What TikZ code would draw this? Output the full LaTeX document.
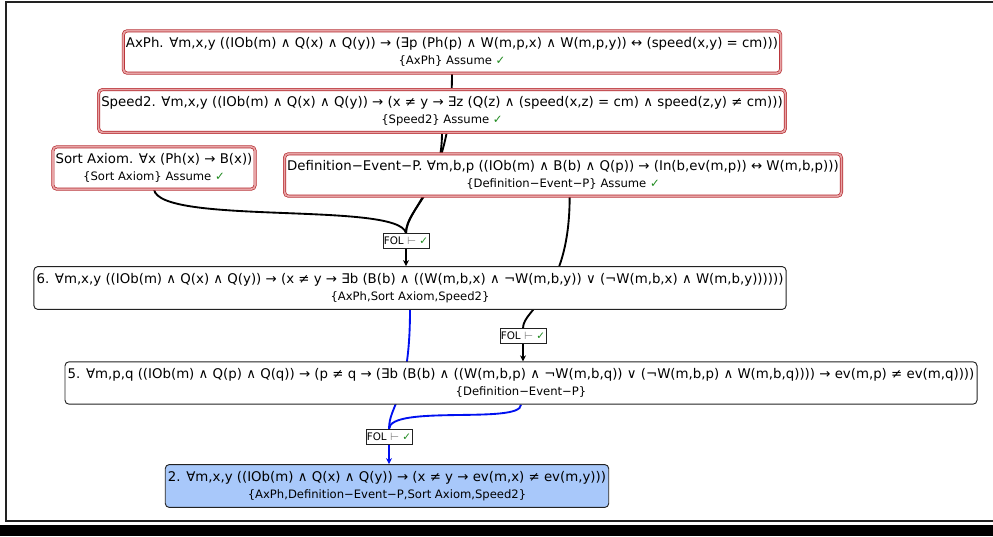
\documentclass[tikz,border=0pt]{standalone}
\usepackage{fontspec}
\setmainfont{DejaVu Sans}
\usetikzlibrary{arrows.meta,backgrounds}
\definecolor{pfRed}{HTML}{B3262B}
\definecolor{pfPink}{HTML}{E7A3A5}
\definecolor{pfBlue}{HTML}{A8C8FA}
\definecolor{pfLine}{HTML}{0010F0}
\definecolor{pfGreen}{HTML}{1E8A1E}
\definecolor{pfInk}{HTML}{222222}
\newcommand{\ok}{\textcolor{pfGreen}{✓}}
\newcommand{\from}[1]{{\fontsize{8.7}{10}\selectfont #1}}
\tikzset{
  formula/.style={align=center,text=black,font=\fontsize{10}{12.75}\selectfont,
    inner xsep=2pt,inner ysep=5pt,rounded corners=3pt,fill=white},
  axiom/.style={formula,draw=pfRed,double=pfPink,double distance=1.3pt,line width=.5pt},
  derived/.style={formula,draw=pfInk,line width=.7pt},
  goal/.style={derived,fill=pfBlue},
  fol/.style={draw=pfInk,fill=white,line width=.6pt,inner xsep=.6pt,inner ysep=2.6pt,
    font=\fontsize{7.8}{9}\selectfont},
  proofline/.style={draw=black,line width=1.4pt},
  goalline/.style={draw=pfLine,line width=1.4pt},
  infer/.style={proofline,-{Stealth[length=4.5pt,width=4.5pt]}},
  goalinfer/.style={goalline,-{Stealth[length=4.5pt,width=4.5pt]}},
}

\begin{document}
\begin{tikzpicture}[x=.75pt,y=-.75pt]
  \useasboundingbox (0,0) rectangle (993,536);
  \draw[pfInk,line width=.8pt] (993,2) -- (6,2) -- (6,521) -- (993,521);
  \fill[black] (0,525) rectangle (993,536);

  \node[axiom] (axph) at (452,52)
    {AxPh. ∀m,x,y ((IOb(m) ∧ Q(x) ∧ Q(y)) → (∃p (Ph(p) ∧ W(m,p,x) ∧ W(m,p,y)) ↔ (speed(x,y) = cm)))\\
     \from{\{AxPh\} Assume \ok}};
  \node[axiom] (speed2) at (442,111)
    {Speed2. ∀m,x,y ((IOb(m) ∧ Q(x) ∧ Q(y)) → (x ≠ y → ∃z (Q(z) ∧ (speed(x,z) = cm) ∧ speed(z,y) ≠ cm)))\\
     \from{\{Speed2\} Assume \ok}};
  \node[axiom] (sortax) at (154,168)
    {Sort Axiom. ∀x (Ph(x) → B(x))\\
     \from{\{Sort Axiom\} Assume \ok}};
  \node[axiom] (defev) at (563,175)
    {Definition−Event−P. ∀m,b,p ((IOb(m) ∧ B(b) ∧ Q(p)) → (In(b,ev(m,p)) ↔ W(m,b,p)))\\
     \from{\{Definition−Event−P\} Assume \ok}};
  \node[fol] (fol1) at (406,241) {FOL \textcolor{gray}{⊢} \ok};
  \node[derived] (n6) at (410,288)
    {6. ∀m,x,y ((IOb(m) ∧ Q(x) ∧ Q(y)) → (x ≠ y → ∃b (B(b) ∧ ((W(m,b,x) ∧ ¬W(m,b,y)) ∨ (¬W(m,b,x) ∧ W(m,b,y))))))\\
     \from{\{AxPh,Sort Axiom,Speed2\}}};
  \node[fol] (fol2) at (523,336) {FOL \textcolor{gray}{⊢} \ok};
  \node[derived] (n5) at (521,383)
    {5. ∀m,p,q ((IOb(m) ∧ Q(p) ∧ Q(q)) → (p ≠ q → (∃b (B(b) ∧ ((W(m,b,p) ∧ ¬W(m,b,q)) ∨ (¬W(m,b,p) ∧ W(m,b,q)))) → ev(m,p) ≠ ev(m,q))))\\
     \from{\{Definition−Event−P\}}};
  \node[fol] (fol3) at (389,437) {FOL \textcolor{gray}{⊢} \ok};
  \node[goal] (n2) at (387,486)
    {2. ∀m,x,y ((IOb(m) ∧ Q(x) ∧ Q(y)) → (x ≠ y → ev(m,x) ≠ ev(m,y)))\\
     \from{\{AxPh,Definition−Event−P,Sort Axiom,Speed2\}}};

  \begin{scope}[on background layer]
    \draw[proofline] (axph.south) .. controls +(0,110) and +(0,-25) .. (fol1.north);
    \draw[proofline] (speed2.south) .. controls +(0,60) and +(0,-25) .. (fol1.north);
    \draw[proofline] (sortax.south) .. controls +(6,36) and +(-6,-32) .. (fol1.north);
    \draw[infer] (fol1) -- (fol1 |- n6.north);
    \draw[proofline] ([xshift=5]defev.south) .. controls +(0,100) and +(0,-20) .. (fol2.north);
    \draw[infer] (fol2) -- (fol2 |- n5.north);
    \draw[goalline] (n6.south) .. controls +(0,90) and +(0,-25) .. (fol3.north);
    \draw[goalline] (n5.south) .. controls +(0,20) and +(0,-25) .. (fol3.north);
    \draw[goalinfer] (fol3) -- (fol3 |- n2.north);
  \end{scope}
\end{tikzpicture}
\end{document}
